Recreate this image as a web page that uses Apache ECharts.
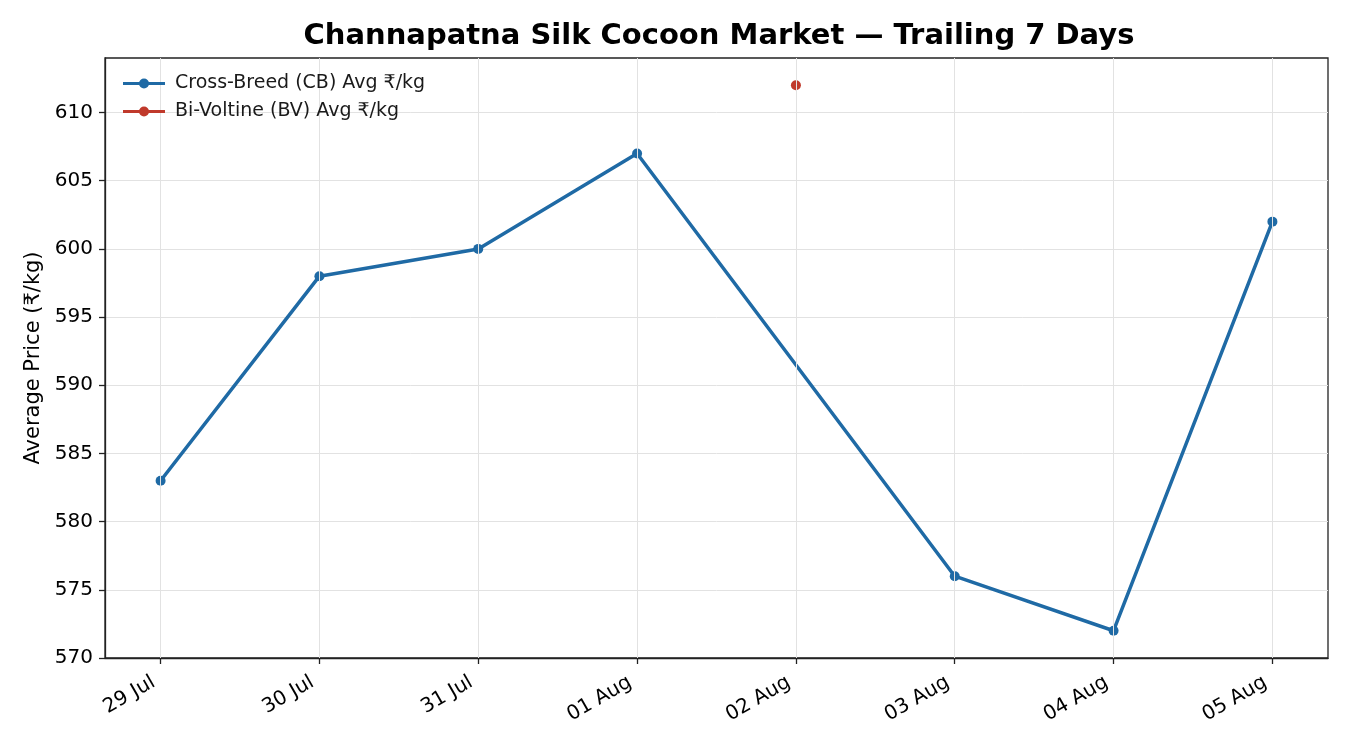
<!DOCTYPE html>
<html><head><meta charset="utf-8">
<script src="https://cdn.jsdelivr.net/npm/echarts@6/dist/echarts.min.js"></script>
<style>html,body{margin:0;padding:0;background:#fff}#c{width:1350px;height:750px}</style>
</head><body><div id="c"></div>
<script>
const dates = ['29 Jul','30 Jul','31 Jul','01 Aug','02 Aug','03 Aug','04 Aug','05 Aug'];
const cbValues = [583, 598, 600, 607, null, 576, 572, 602];
const bvValues = [null, null, null, null, 612, null, null, null];
const yTicks = [570, 575, 580, 585, 590, 595, 600, 605, 610];

const idx = dates.map((d, i) => i);
const toPairs = arr => arr.map((v, i) => v == null ? null : [i, v]).filter(p => p);
const font = 'DejaVu Sans';
const legendIcon = 'path://M0,3H42V6H0Z M16,4.5A5,5 0 1,1 26,4.5A5,5 0 1,1 16,4.5Z';
const chart = echarts.init(document.getElementById('c'));
chart.setOption({
  animation: false,
  backgroundColor: '#fff',
  title: {
    text: 'Channapatna Silk Cocoon Market — Trailing 7 Days',
    left: 714, top: 17, textAlign: 'center',
    textStyle: {fontFamily: font, fontSize: 29, fontWeight: 'bold', color: '#000'}
  },
  legend: {
    orient: 'vertical', left: 118, top: 69, itemGap: 9, itemWidth: 42, itemHeight: 10, z: 20,
    icon: legendIcon,
    textStyle: {fontFamily: font, fontSize: 19, color: '#1a1a1a', padding: [0, 0, 0, 5]},
    data: ['Cross-Breed (CB) Avg ₹/kg', 'Bi-Voltine (BV) Avg ₹/kg']
  },
  grid: {left: 105, right: 22, top: 58, bottom: 92, show: true, borderColor: '#222', borderWidth: 1.3, containLabel: false},
  xAxis: {
    type: 'value', min: -0.35, max: 7.35,
    axisLine: {show: true, onZero: false, lineStyle: {color: '#222', width: 1.3}},
    axisTick: {show: true, customValues: idx, length: 6, lineStyle: {color: '#222', width: 1.3}},
    axisLabel: {customValues: idx, rotate: 30, fontFamily: font, fontSize: 20, color: '#000', margin: 19,
      padding: [0, 8, 0, 0], formatter: v => dates[Math.round(v)] || ''},
    splitLine: {show: false}
  },
  yAxis: {
    type: 'value', min: 570, max: 614, interval: 5,
    name: 'Average Price (₹/kg)', nameLocation: 'middle', nameGap: 61,
    nameTextStyle: {fontFamily: font, fontSize: 21, color: '#000'},
    axisLine: {show: true, onZero: false, lineStyle: {color: '#222', width: 1.3}},
    axisTick: {show: true, length: 6, customValues: yTicks, lineStyle: {color: '#222', width: 1.3}},
    axisLabel: {fontFamily: font, fontSize: 20, color: '#000', margin: 12, customValues: yTicks},
    splitLine: {show: true, lineStyle: {color: '#e2e2e2', width: 1}}
  },
  series: [
    {
      name: 'grid-x', type: 'line', data: [], silent: true, z: 1,
      markLine: {
        silent: true, symbol: 'none', label: {show: false}, animation: false,
        lineStyle: {color: '#e2e2e2', width: 1, type: 'solid'},
        data: idx.map(i => ({xAxis: i}))
      }
    },
    {
      name: 'Cross-Breed (CB) Avg ₹/kg', type: 'line', data: toPairs(cbValues),
      color: '#1f6aa5', symbol: 'circle', symbolSize: 10, lineStyle: {width: 3.5},
      itemStyle: {borderWidth: 0}, z: 3
    },
    {
      name: 'Bi-Voltine (BV) Avg ₹/kg', type: 'line', data: toPairs(bvValues),
      color: '#c0392b', symbol: 'circle', symbolSize: 10, lineStyle: {width: 3.5},
      itemStyle: {borderWidth: 0}, z: 3
    }
  ]
});
</script></body></html>
